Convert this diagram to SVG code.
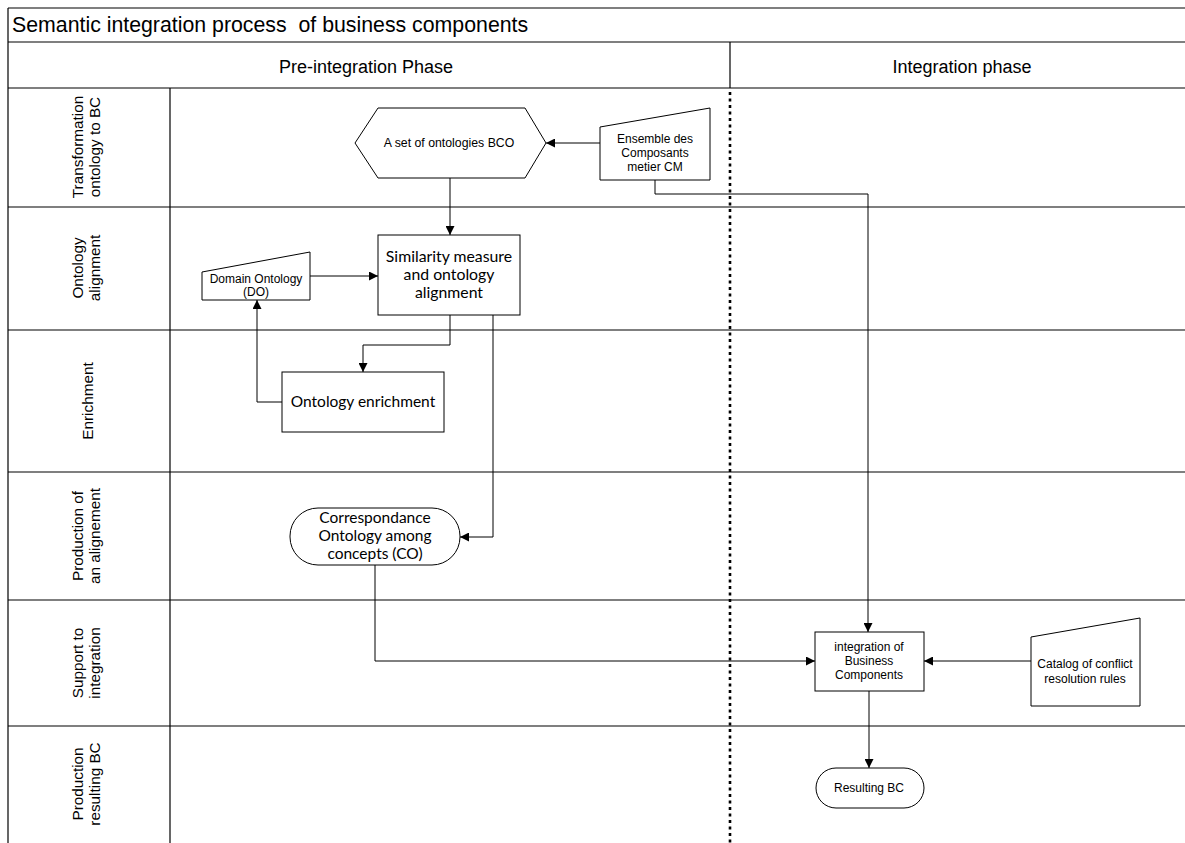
<svg xmlns="http://www.w3.org/2000/svg" width="1185" height="843" viewBox="0 0 1185 843">
<style>
.frame{fill:none;stroke:#000;stroke-width:1.2}
.ln{stroke:#000;stroke-width:1.2;fill:none}
.node{fill:#fff;stroke:#000;stroke-width:1}
.conn{fill:none;stroke:#000;stroke-width:1}
.a{font-family:"Liberation Sans",Arial,sans-serif;fill:#000}
.c{font-family:Lato,"Liberation Sans",sans-serif;fill:#000}
.lane{font-family:"Liberation Sans",Arial,sans-serif;font-size:15.3px;fill:#000;text-anchor:middle}
</style>
<defs>
<marker id="arr" viewBox="0 0 10 10" refX="10" refY="5" markerWidth="9" markerHeight="9" markerUnits="userSpaceOnUse" orient="auto">
<path d="M0,0 L10,5 L0,10 z" fill="#000"/>
</marker>
</defs>
<rect width="1185" height="843" fill="#fff"/>
<g id="pool">
<line class="ln" x1="8" y1="8" x2="1185" y2="8"/>
<line class="ln" x1="8" y1="8" x2="8" y2="843"/>
<line class="ln" x1="8" y1="42" x2="1185" y2="42"/>
<line class="ln" x1="8" y1="88" x2="1185" y2="88"/>
<line class="ln" x1="8" y1="207" x2="1185" y2="207"/>
<line class="ln" x1="8" y1="330" x2="1185" y2="330"/>
<line class="ln" x1="8" y1="472" x2="1185" y2="472"/>
<line class="ln" x1="8" y1="600" x2="1185" y2="600"/>
<line class="ln" x1="8" y1="726" x2="1185" y2="726"/>
<line class="ln" x1="170" y1="88" x2="170" y2="843"/>
<line class="ln" x1="730" y1="42" x2="730" y2="88"/>
<line x1="730" y1="92" x2="730" y2="843" stroke="#000" stroke-width="2.6" stroke-dasharray="3,3.5"/>
<text class="a" x="12" y="32" font-size="21.3" xml:space="preserve" style="white-space:pre">Semantic integration process  of business components</text>
<text class="a" x="366" y="73" font-size="18" text-anchor="middle">Pre-integration Phase</text>
<text class="a" x="962" y="73" font-size="18" text-anchor="middle">Integration phase</text>
</g>
<g id="lanes">
<text class="lane" transform="translate(83,147) rotate(-90)"><tspan x="0" y="0">Transformation</tspan><tspan x="0" y="17">ontology to BC</tspan></text>
<text class="lane" transform="translate(83,268) rotate(-90)"><tspan x="0" y="0">Ontology</tspan><tspan x="0" y="17">alignment</tspan></text>
<text class="lane" transform="translate(93,401) rotate(-90)"><tspan x="0" y="0">Enrichment</tspan></text>
<text class="lane" transform="translate(83,536) rotate(-90)"><tspan x="0" y="0">Production of</tspan><tspan x="0" y="17">an alignement</tspan></text>
<text class="lane" transform="translate(83,663) rotate(-90)"><tspan x="0" y="0">Support to</tspan><tspan x="0" y="17">integration</tspan></text>
<text class="lane" transform="translate(83,784) rotate(-90)"><tspan x="0" y="0">Production</tspan><tspan x="0" y="17">resulting BC</tspan></text>
</g>
<g id="connectors">
<path class="conn" d="M600,143 L546,143" marker-end="url(#arr)"/>
<path class="conn" d="M450,178 L450,235" marker-end="url(#arr)"/>
<path class="conn" d="M655,180 L655,194 L868,194 L868,632" marker-end="url(#arr)"/>
<path class="conn" d="M310,276 L378,276" marker-end="url(#arr)"/>
<path class="conn" d="M450,315 L450,345 L363,345 L363,372" marker-end="url(#arr)"/>
<path class="conn" d="M282,402 L257,402 L257,300" marker-end="url(#arr)"/>
<path class="conn" d="M493,315 L493,537 L460,537" marker-end="url(#arr)"/>
<path class="conn" d="M375,565 L375,661 L815,661" marker-end="url(#arr)"/>
<path class="conn" d="M1031,661 L924,661" marker-end="url(#arr)"/>
<path class="conn" d="M869,691 L869,768" marker-end="url(#arr)"/>
</g>
<g id="bco">
<polygon class="node" points="355,143 378,108 525,108 546,143 525,178 378,178"/>
<text class="a" x="449" y="147" font-size="12.3" text-anchor="middle">A set of ontologies BCO</text>
</g>
<g id="cm">
<polygon class="node" points="600,127 710,108 710,180 600,180"/>
<text class="a" font-size="12" text-anchor="middle"><tspan x="655" y="143">Ensemble des</tspan><tspan x="655" y="157">Composants</tspan><tspan x="655" y="171">metier CM</tspan></text>
</g>
<g id="similarity">
<rect class="node" x="378" y="235" width="142" height="80"/>
<text class="c" font-size="15.8" text-anchor="middle"><tspan x="449" y="262">Similarity measure</tspan><tspan x="449" y="280">and ontology</tspan><tspan x="449" y="298">alignment</tspan></text>
</g>
<g id="do">
<polygon class="node" points="202,272 310,252 310,300 202,300"/>
<text class="a" font-size="12" text-anchor="middle"><tspan x="256" y="283">Domain Ontology</tspan><tspan x="256" y="296">(DO)</tspan></text>
</g>
<g id="enrichment">
<rect class="node" x="282" y="372" width="162" height="60"/>
<text class="c" x="363" y="407" font-size="15.5" text-anchor="middle">Ontology enrichment</text>
</g>
<g id="co">
<rect class="node" x="290" y="508" width="170" height="57" rx="28" ry="28"/>
<text class="c" font-size="15.5" text-anchor="middle"><tspan x="375" y="523">Correspondance</tspan><tspan x="375" y="541">Ontology among</tspan><tspan x="375" y="559">concepts (CO)</tspan></text>
</g>
<g id="integration">
<rect class="node" x="815" y="632" width="109" height="59"/>
<text class="a" font-size="12" text-anchor="middle"><tspan x="869" y="651">integration of</tspan><tspan x="869" y="665">Business</tspan><tspan x="869" y="679">Components</tspan></text>
</g>
<g id="catalog">
<polygon class="node" points="1031,637 1140,618 1140,706 1031,706"/>
<text class="a" font-size="12" text-anchor="middle"><tspan x="1085" y="668">Catalog of conflict</tspan><tspan x="1085" y="683">resolution rules</tspan></text>
</g>
<g id="resulting">
<rect class="node" x="816" y="768" width="108" height="40" rx="20" ry="20"/>
<text class="a" x="869" y="792" font-size="12" text-anchor="middle">Resulting BC</text>
</g>
</svg>
